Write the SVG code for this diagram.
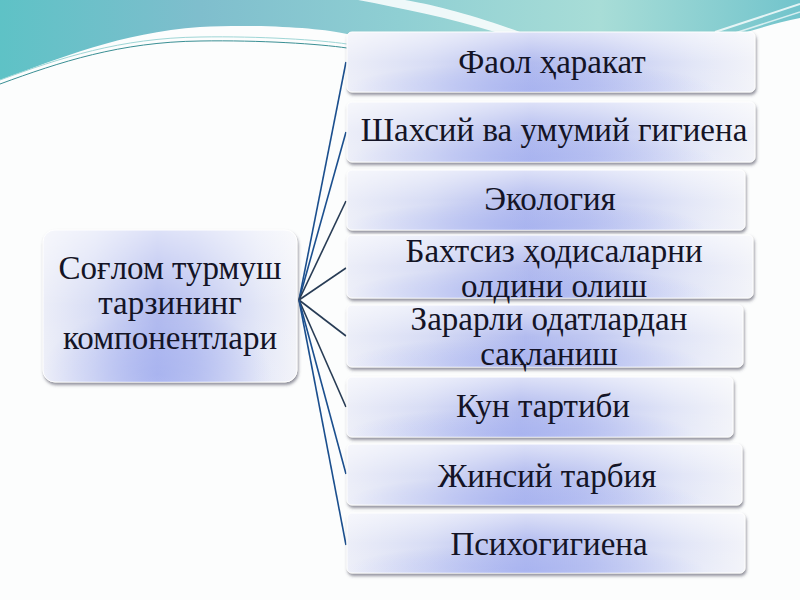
<svg xmlns="http://www.w3.org/2000/svg" width="800" height="600" viewBox="0 0 800 600">
<defs>
<linearGradient id="teal" x1="0" y1="0" x2="1" y2="0">
<stop offset="0" stop-color="#5ec2c6"/>
<stop offset="0.25" stop-color="#7fbecd"/>
<stop offset="0.5" stop-color="#8fcfd3"/>
<stop offset="0.75" stop-color="#a8ddd7"/>
<stop offset="1" stop-color="#72c4cc"/>
</linearGradient>
<linearGradient id="boxfill" x1="0" y1="0" x2="1" y2="0">
<stop offset="0" stop-color="#eceef8"/>
<stop offset="0.2" stop-color="#d8ddf5"/>
<stop offset="0.45" stop-color="#b3bcef"/>
<stop offset="0.6" stop-color="#bfc7f1"/>
<stop offset="0.85" stop-color="#e2e6f7"/>
<stop offset="1" stop-color="#f2f3f9"/>
</linearGradient>
<radialGradient id="spot" cx="0.45" cy="0.95" r="0.45">
<stop offset="0" stop-color="#95a3ee" stop-opacity="0.6"/>
<stop offset="1" stop-color="#95a3ee" stop-opacity="0"/>
</radialGradient>
<linearGradient id="gloss" x1="0" y1="0" x2="0" y2="1">
<stop offset="0" stop-color="#ffffff" stop-opacity="0.55"/>
<stop offset="0.5" stop-color="#ffffff" stop-opacity="0"/>
<stop offset="1" stop-color="#ffffff" stop-opacity="0.1"/>
</linearGradient>
<filter id="sh" x="-5%" y="-10%" width="110%" height="130%">
<feDropShadow dx="1" dy="2.5" stdDeviation="1.5" flood-color="#4a4a5a" flood-opacity="0.6"/>
</filter>
</defs>
<style>
.box{fill:url(#boxfill);stroke:#ffffff;stroke-width:1;filter:url(#sh)}
.sp{fill:url(#spot)}
.gl{fill:url(#gloss)}
.t{font-family:"Liberation Serif","DejaVu Serif",serif;font-size:33px;fill:#141426;text-anchor:middle}
.tl{font-family:"Liberation Serif","DejaVu Serif",serif;font-size:33px;fill:#141426;text-anchor:middle}
.c{fill:none;stroke-width:1.6}
.cb{stroke:#1b4f8e}
.cd{stroke:#283c55}
</style>
<rect width="800" height="600" fill="#fcfdfd"/>
<g id="background">
<path d="M0,0 H800 V18 C780,22 760,28 740,34 L347,34 C320,28 260,24 200,27 C120,33 60,58 0,80 Z" fill="url(#teal)"/>
<path d="M358,0 C400,8 450,18 495,32 L520,32 C470,14 430,4 405,0 Z" fill="#ffffff" fill-opacity="0.85"/>
<path d="M0,84 C60,62 120,42 200,41 C260,40 320,44 347,48" fill="none" stroke="#3a8f94" stroke-width="1"/>
<path d="M0,80 C60,58 120,38 200,37 C260,36 320,40 347,44" fill="none" stroke="#9fd6d6" stroke-width="1"/>
<path d="M715,32 L800,4" stroke="#ffffff" stroke-width="2" stroke-opacity="0.8"/>
<path d="M735,33 L800,12" stroke="#ffffff" stroke-width="1.5" stroke-opacity="0.7"/>
</g>
<g id="connectors">
<path class="c cb" d="M299,300 L346,62"/>
<path class="c cb" d="M299,300 L346,132"/>
<path class="c cd" d="M299,300 L346,201"/>
<path class="c cd" d="M299,300 L346,268"/>
<path class="c cd" d="M299,300 L346,336"/>
<path class="c cd" d="M299,300 L346,407"/>
<path class="c cb" d="M299,300 L346,474"/>
<path class="c cb" d="M299,300 L346,545"/>
</g>
<g id="root">
<rect class="box" x="43" y="230" width="254" height="152" rx="12"/>
<rect class="sp" x="43" y="230" width="254" height="152" rx="12"/>
<rect class="gl" x="43" y="230" width="254" height="152" rx="12"/>
<text class="tl" x="170" y="279">Соғлом турмуш</text>
<text class="tl" x="170" y="314">тарзининг</text>
<text class="tl" x="170" y="349">компонентлари</text>
</g>
<g id="n1">
<rect class="box" x="347" y="32" width="408" height="60" rx="5"/>
<rect class="sp" x="347" y="32" width="408" height="60" rx="5"/>
<rect class="gl" x="347" y="32" width="408" height="60" rx="5"/>
<text class="t" x="552" y="73">Фаол ҳаракат</text>
</g>
<g id="n2">
<rect class="box" x="347" y="102" width="408" height="60" rx="5"/>
<rect class="sp" x="347" y="102" width="408" height="60" rx="5"/>
<rect class="gl" x="347" y="102" width="408" height="60" rx="5"/>
<text class="t" x="554" y="141">Шахсий ва умумий гигиена</text>
</g>
<g id="n3">
<rect class="box" x="347" y="170" width="398" height="60" rx="5"/>
<rect class="sp" x="347" y="170" width="398" height="60" rx="5"/>
<rect class="gl" x="347" y="170" width="398" height="60" rx="5"/>
<text class="t" x="550" y="210">Экология</text>
</g>
<g id="n4">
<rect class="box" x="347" y="235" width="406" height="63" rx="5"/>
<rect class="sp" x="347" y="235" width="406" height="63" rx="5"/>
<rect class="gl" x="347" y="235" width="406" height="63" rx="5"/>
<text class="t" x="554" y="262">Бахтсиз ҳодисаларни</text>
<text class="t" x="554" y="297">олдини олиш</text>
</g>
<g id="n5">
<rect class="box" x="347" y="305" width="396" height="62" rx="5"/>
<rect class="sp" x="347" y="305" width="396" height="62" rx="5"/>
<rect class="gl" x="347" y="305" width="396" height="62" rx="5"/>
<text class="t" x="549" y="330">Зарарли одатлардан</text>
<text class="t" x="549" y="365">сақланиш</text>
</g>
<g id="n6">
<rect class="box" x="347" y="377" width="386" height="60" rx="5"/>
<rect class="sp" x="347" y="377" width="386" height="60" rx="5"/>
<rect class="gl" x="347" y="377" width="386" height="60" rx="5"/>
<text class="t" x="543" y="417">Кун тартиби</text>
</g>
<g id="n7">
<rect class="box" x="347" y="444" width="395" height="61" rx="5"/>
<rect class="sp" x="347" y="444" width="395" height="61" rx="5"/>
<rect class="gl" x="347" y="444" width="395" height="61" rx="5"/>
<text class="t" x="547" y="487">Жинсий тарбия</text>
</g>
<g id="n8">
<rect class="box" x="347" y="513" width="398" height="60" rx="5"/>
<rect class="sp" x="347" y="513" width="398" height="60" rx="5"/>
<rect class="gl" x="347" y="513" width="398" height="60" rx="5"/>
<text class="t" x="549" y="555">Психогигиена</text>
</g>
</svg>
